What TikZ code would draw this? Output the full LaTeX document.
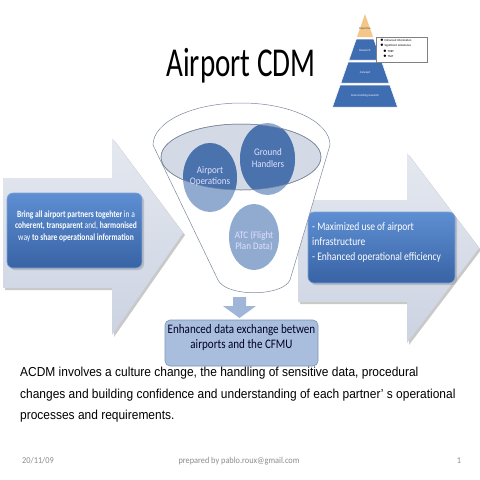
\documentclass[tikz,border=0pt]{standalone}
\usepackage{fontspec}
\setmainfont{Carlito}
\newfontfamily\arialf{Liberation Sans}
\usetikzlibrary{shapes.geometric,shadows}
\newcommand\sx[2][0.74]{\scalebox{#1}[1]{#2}}
\definecolor{arrowA}{HTML}{E4E8F0}
\definecolor{arrowB}{HTML}{CCD3E1}
\definecolor{blueT}{HTML}{5E8FD2}
\definecolor{blueB}{HTML}{3863A5}
\definecolor{blueE}{HTML}{7FA3D6}
\definecolor{circD}{HTML}{4A72AC}
\definecolor{circL}{HTML}{91AAD0}
\definecolor{rimF}{HTML}{D3DAE5}
\definecolor{lineG}{HTML}{7D889C}
\definecolor{botF}{HTML}{A9BEDC}
\definecolor{botE}{HTML}{7E95B9}
\definecolor{darrow}{HTML}{9FB6D8}
\definecolor{footG}{HTML}{8C8C8C}
\definecolor{pyrO}{HTML}{F4C688}
\definecolor{pyrB}{HTML}{3E6DB2}
\tikzset{
  bigarrow/.style={top color=arrowA, bottom color=arrowB, draw=none,
    drop shadow={shadow xshift=2pt, shadow yshift=-2pt, opacity=0.35, fill=black!60}},
  bluebox/.style={rounded corners=6pt, top color=blueT, bottom color=blueB, draw=blueE, line width=0.6pt,
    inner sep=0pt, drop shadow={shadow xshift=2pt, shadow yshift=-2pt, opacity=0.35}},
  boxtext/.style={text=white, inner sep=0pt},
  circtext/.style={text=white!88!blue, inner sep=0pt},
  oval/.style={ellipse, inner sep=0pt, fill=circL},
  pyrlayer/.style={fill=pyrB, draw=white, line width=0.5pt},
  tinytext/.style={font=\fontsize{3}{3.5}\selectfont, inner sep=0pt},
}
\begin{document}
\begin{tikzpicture}[x=1pt,y=-1pt]
\useasboundingbox (0,0) rectangle (480,480);
\fill[white] (0,0) rectangle (480,480);

% title
\node[anchor=base, inner sep=0pt, font=\fontsize{41}{44}\selectfont] (title) at (241,76.5) {\sx[0.71]{Airport CDM}};

% pyramid
\fill[pyrO] (365,14) -- (373,37) -- (357,37) -- cycle;
\fill[pyrlayer] (356.3,39) -- (373.7,39) -- (381.1,60) -- (348.9,60) -- cycle;
\fill[pyrlayer] (348.2,62) -- (381.8,62) -- (389.1,83) -- (340.9,83) -- cycle;
\fill[pyrlayer] (340.2,85) -- (389.8,85) -- (397.5,107) -- (332.5,107) -- cycle;
\fill[white, opacity=0.35] (352,47) -- (354,45) -- (350,58) -- (348.5,58) -- cycle;
\node[tinytext, text=black!70] (p1) at (365,29) {Expertise};
\node[tinytext, text=white] (p2) at (365,50) {Research};
\node[tinytext, text=white] (p3) at (365,72.5) {Concept};
\node[tinytext, text=white] (p4) at (365,96) {Cross-funding research};
\node[draw=black!50, fill=white, minimum width=51pt, minimum height=25pt, inner sep=0pt,
  drop shadow={shadow xshift=1pt, shadow yshift=-1pt, opacity=0.3}] (pbox) at (401.5,49.5) {};
\node[tinytext, anchor=north west, align=left, font=\fontsize{3}{5.6}\selectfont] (pboxt) at (380,38.5)
  {$\bullet$ Enhanced information\\$\bullet$ Significant milestones\\\hspace{3pt}$\bullet$ TOBT\\\hspace{3pt}$\bullet$ TSAT};

% big arrows
\path[bigarrow] (3,178) -- (112,178) -- (112,138) -- (183,233) -- (112,335) -- (112,288) -- (3,288) -- cycle;
\path[bigarrow] (298,200) -- (407,200) -- (407,153) -- (479,248) -- (407,343) -- (407,302) -- (298,302) -- cycle;

% left box
\node[bluebox, minimum width=135pt, minimum height=75pt] (lbox) at (74.5,230.5) {};
\node[boxtext, font=\fontsize{9.5}{11.5}\selectfont] (ltext) at (76,226.5)
  {\sx[0.79]{\begin{tabular}{@{}c@{}}\textbf{Bring all airport partners togehter} in a\\ \textbf{coherent, transparent} and, \textbf{harmonised}\\ way \textbf{to share operational information}\end{tabular}}};

% right box
\node[bluebox, minimum width=147pt, minimum height=71pt] (rbox) at (381.5,247.5) {};
\node[boxtext, anchor=west, font=\fontsize{11.5}{15}\selectfont] (rtext) at (312,242)
  {\sx[0.83]{\begin{tabular}{@{}l@{}}- Maximized use of airport\\ infrastructure\\ - Enhanced operational efficiency\end{tabular}}};

% funnel
\draw[lineG, line width=0.5pt, fill=white] (153,145) arc[start angle=180, end angle=360, x radius=88.5, y radius=42]
  -- (290,280) .. controls (282,297) and (226,297) .. (218,280) -- cycle;
\node[ellipse, draw=lineG, line width=0.5pt, fill=rimF, minimum width=160pt, minimum height=66pt, inner sep=0pt] (rim) at (241,157) {};

% circles
\node[oval, minimum width=54pt, minimum height=69pt] (ao) at (210,177.5) {};
\node[oval, minimum width=55pt, minimum height=72pt] (gh) at (267.5,159) {};
\node[oval, minimum width=50pt, minimum height=66pt] (atc) at (254,237) {};
\begin{scope}
  \clip (241,157) ellipse [x radius=80, y radius=33];
  \fill[circD] (210,177.5) ellipse [x radius=27, y radius=34.5];
  \fill[circD] (267.5,159) ellipse [x radius=27.5, y radius=36];
\end{scope}
\draw[lineG, line width=0.5pt] (241,157) ellipse [x radius=80, y radius=33];
\node[circtext, font=\fontsize{10}{11}\selectfont] (aot) at (210,177) {\sx[0.9]{\begin{tabular}{@{}c@{}}Airport\\ Operations\end{tabular}}};
\node[circtext, font=\fontsize{10}{11.5}\selectfont] (ght) at (268,159) {\sx[0.9]{\begin{tabular}{@{}c@{}}Ground\\ Handlers\end{tabular}}};
\node[circtext, font=\fontsize{10}{11}\selectfont] (atct) at (254,242) {\sx[0.9]{\begin{tabular}{@{}c@{}}ATC (Flight\\ Plan Data)\end{tabular}}};

% down arrow
\fill[darrow] (233,297) -- (246,297) -- (246,306) -- (256,306) -- (239.5,318) -- (223,306) -- (233,306) -- cycle;

% bottom box
\node[rounded corners=5pt, fill=botF, draw=botE, line width=0.6pt, minimum width=153pt, minimum height=46pt, inner sep=0pt] (bbox) at (241.5,343) {};
\node[inner sep=0pt, text=black!85!blue, font=\fontsize{13}{15}\selectfont] (btext) at (241.5,338)
  {\sx[0.85]{\begin{tabular}{@{}c@{}}Enhanced data exchange betwen\\ airports and the CFMU\end{tabular}}};

% paragraph
\node[anchor=base west, inner sep=0pt, font=\arialf\fontsize{13}{21.5}\selectfont] (para) at (20,397)
  {\sx[0.92]{\begin{tabular}{@{}l@{}}ACDM involves a culture change, the handling of sensitive data, procedural\\ changes and building confidence and understanding of each partner’ s operational\\ processes and requirements.\end{tabular}}};

% footer
\node[anchor=base, inner sep=0pt, text=footG, font=\fontsize{9}{10}\selectfont] (f1) at (38,463) {\sx[0.92]{20/11/09}};
\node[anchor=base, inner sep=0pt, text=footG, font=\fontsize{9}{10}\selectfont] (f2) at (239,463) {\sx[0.92]{prepared by pablo.roux@gmail.com}};
\node[anchor=base, inner sep=0pt, text=footG, font=\fontsize{9}{10}\selectfont] (f3) at (459,463) {\sx[0.92]{1}};
\end{tikzpicture}
\end{document}
